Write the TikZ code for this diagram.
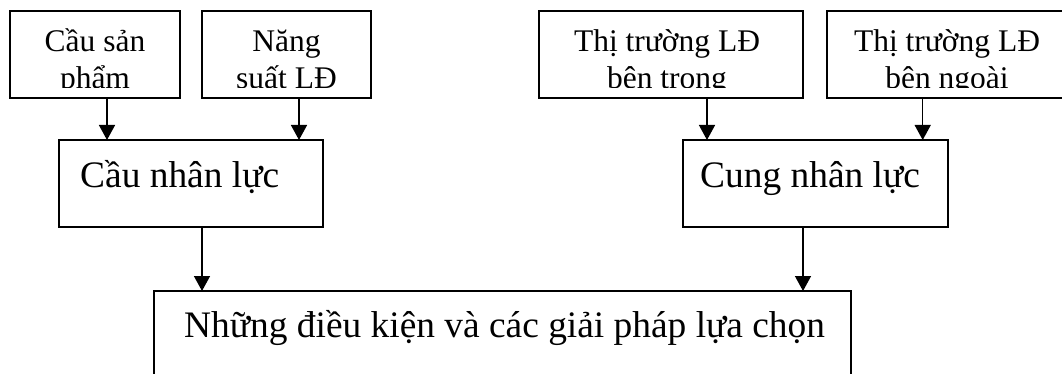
\documentclass[tikz,border=0pt]{standalone}
\usepackage{fontspec}
\setmainfont{Liberation Serif}
\usetikzlibrary{arrows.meta}
\begin{document}
\begin{tikzpicture}[x=1pt,y=-1pt,
  box/.style={draw, line width=2pt, outer sep=0pt, inner sep=0pt},
  smalltxt/.style={font=\fontsize{31.5}{36}\selectfont, inner sep=0pt, anchor=base},
  bigtxt/.style={font=\fontsize{37.4}{42}\selectfont, inner sep=0pt, anchor=base west},
  link/.style={line width=1.5pt, -{Triangle[length=15pt,width=16pt]}}]
\useasboundingbox (0,0) rectangle (1062,374);

% top row: inputs
\node[box, minimum width=170pt, minimum height=86.7pt] (A) at (95,54.35) {};
\node[box, minimum width=169pt, minimum height=86.7pt] (B) at (286.5,54.35) {};
\node[box, minimum width=264pt, minimum height=86.7pt] (D) at (671,54.35) {};
\node[box, minimum width=241.4pt, minimum height=86.7pt] (E) at (947.3,54.35) {};

% middle row
\node[box, minimum width=263.5pt, minimum height=87pt] (C) at (190.75,183.5) {};
\node[box, minimum width=264.6pt, minimum height=87pt] (F) at (815.3,183.5) {};

% bottom box
\node[box, minimum width=697pt, minimum height=109pt] (G) at (502.5,345.5) {};

% two-line labels, cut off by the inner margin of their boxes
\begin{scope}
\clip (A.north west) rectangle ([yshift=10pt]A.south east);
\node[smalltxt] (a1) at (95,51.7) {Cầu sản};
\node[smalltxt] (a2) at (95,88.5) {phẩm};
\end{scope}
\begin{scope}
\clip (B.north west) rectangle ([yshift=10pt]B.south east);
\node[smalltxt] (b1) at (286.5,51.7) {Năng};
\node[smalltxt] (b2) at (286.5,88.5) {suất LĐ};
\end{scope}
\begin{scope}
\clip (D.north west) rectangle ([yshift=10pt]D.south east);
\node[smalltxt] (d1) at (667,51.7) {Thị trường LĐ};
\node[smalltxt] (d2) at (667,88.5) {bên trong};
\end{scope}
\begin{scope}
\clip (E.north west) rectangle ([yshift=10pt]E.south east);
\node[smalltxt] (e1) at (947,51.7) {Thị trường LĐ};
\node[smalltxt] (e2) at (947,88.5) {bên ngoài};
\end{scope}

% single-line labels
\node[bigtxt] (c1) at (80,187) {Cầu nhân lực};
\node[bigtxt] (f1) at (700,187) {Cung nhân lực};
\node[bigtxt] (g1) at (184,337) {Những điều kiện và các giải pháp lựa chọn};

% connectors
\draw[link] ([xshift=12pt]A.south) -- ([xshift=12pt]A.south |- C.north);
\draw[link] ([xshift=12.5pt]B.south) -- ([xshift=12.5pt]B.south |- C.north);
\draw[link] ([xshift=36pt]D.south) -- ([xshift=36pt]D.south |- F.north);
\draw[link] ([xshift=-24.6pt]E.south) -- ([xshift=-24.6pt]E.south |- F.north);
\draw[link] ([xshift=11.25pt]C.south) -- ([xshift=11.25pt]C.south |- G.north);
\draw[link] ([xshift=-12.3pt]F.south) -- ([xshift=-12.3pt]F.south |- G.north);
\end{tikzpicture}
\end{document}
